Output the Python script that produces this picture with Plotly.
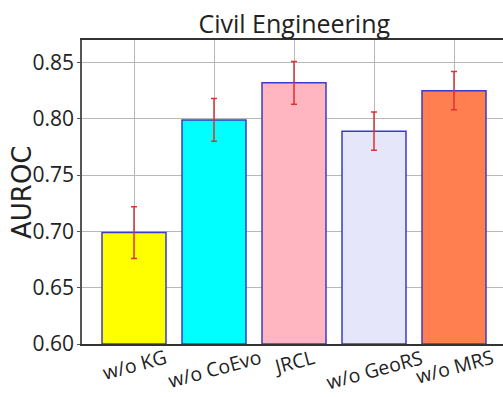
import plotly.graph_objects as go

categories = ["w/o KG", "w/o CoEvo", "JRCL", "w/o GeoRS", "w/o MRS"]
auroc = [0.699, 0.799, 0.832, 0.789, 0.825]
auroc_err = [0.023, 0.019, 0.019, 0.017, 0.017]
bar_colors = ["#FFFF00", "#00FFFF", "#FFB6C1", "#E6E6FA", "#FF7F50"]
y_ticks = [0.60, 0.65, 0.70, 0.75, 0.80, 0.85]
title_text = "Civil Engineering"
y_label = "AUROC"

xpos = list(range(len(categories)))

fig = go.Figure()
fig.add_trace(go.Bar(
    x=xpos, y=[v - 0.6 for v in auroc], base=0.6,
    width=0.8,
    marker=dict(color=bar_colors, line=dict(color="#3a3acc", width=1.5)),
    error_y=dict(type="data", array=auroc_err, color="#e03030",
                 thickness=1.5, width=3),
    showlegend=False,
))

for i, c in enumerate(categories):
    fig.add_annotation(x=i, y=0, xref="x", yref="paper", text=c,
                       textangle=-15, showarrow=False, yanchor="top",
                       yshift=3,
                       font=dict(family="Open Sans", size=19.5, color="#222"))

fig.add_annotation(x=0, y=0.5, xref="paper", yref="paper", text=y_label,
                   textangle=-90, showarrow=False, xanchor="center",
                   yanchor="middle", xshift=-60,
                   font=dict(family="DejaVu Sans", size=26, color="#222"))

fig.update_layout(
    width=503, height=397,
    margin=dict(l=82, r=0, t=40, b=53),
    paper_bgcolor="white", plot_bgcolor="white",
    title=dict(text=title_text, x=0.585, xanchor="center", y=0.94,
               yanchor="middle",
               font=dict(family="Open Sans", size=25, color="#222")),
    xaxis=dict(range=[-0.65, 4.6125], tickvals=xpos, showticklabels=False,
               showgrid=True, gridcolor="#b8b8b8", gridwidth=1,
               showline=True, linecolor="#333", linewidth=1.5, mirror=True,
               ticks="", zeroline=False),
    yaxis=dict(range=[0.6, 0.87], tickvals=y_ticks,
               ticktext=[f"{v:.2f}" for v in y_ticks],
               showgrid=True, gridcolor="#b8b8b8", gridwidth=1,
               showline=True, linecolor="#555", linewidth=1.5,
               ticks="outside", ticklen=3, tickcolor="#555",
               ticklabelstandoff=-1,
               tickfont=dict(family="Open Sans", size=21, color="#222"),
               zeroline=False),
)

fig.write_html("out.html")
